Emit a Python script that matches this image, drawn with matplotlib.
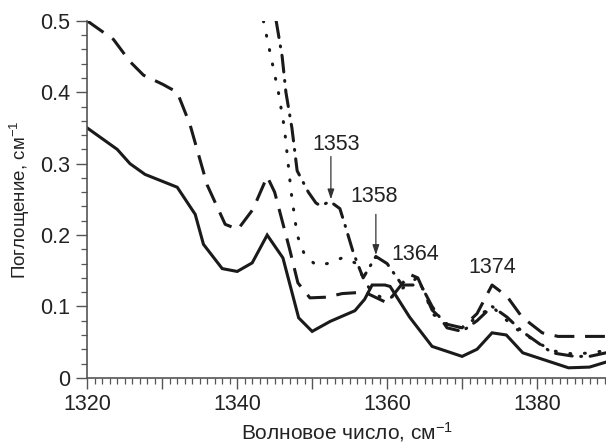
import numpy as np
import matplotlib
matplotlib.use('Agg')
import matplotlib.pyplot as plt
from matplotlib.ticker import MultipleLocator

plt.rcParams['font.family'] = ['Liberation Sans', 'DejaVu Sans']
plt.rcParams['mathtext.fontset'] = 'custom'
plt.rcParams['mathtext.rm'] = 'Liberation Sans'
plt.rcParams['mathtext.it'] = 'Liberation Sans'

# Solid curve
solid_x = [1320, 1324, 1325.7, 1327.7, 1332, 1334.4, 1335.5, 1338, 1340, 1342, 1344, 1346.1,
           1348.2, 1350, 1352.4, 1355.7, 1357, 1358, 1359.7, 1360.4, 1363, 1366, 1370,
           1372, 1374, 1375.9, 1378.1, 1384.2, 1387, 1389.2]
solid_y = [0.35, 0.32, 0.30, 0.285, 0.267, 0.229, 0.187, 0.153, 0.149, 0.161, 0.20, 0.168,
           0.084, 0.065, 0.079, 0.094, 0.11, 0.13, 0.13, 0.128, 0.085, 0.044, 0.03,
           0.04, 0.063, 0.06, 0.035, 0.014, 0.015, 0.022]

# Long dashed curve
dash_x = [1320, 1323.5, 1325.7, 1327.5, 1330.1, 1332, 1333.7, 1336, 1338.4, 1340.1, 1342.1,
          1344, 1345, 1347, 1348.1, 1349.7, 1352, 1354, 1357, 1360, 1363, 1364.1, 1366,
          1368, 1370, 1372, 1374, 1376, 1378, 1380.7, 1382.8, 1389.2]
dash_y = [0.50, 0.474, 0.443, 0.424, 0.411, 0.40, 0.355, 0.27, 0.215, 0.208, 0.236,
          0.282, 0.26, 0.18, 0.133, 0.112, 0.113, 0.118, 0.12, 0.105, 0.145, 0.14, 0.095,
          0.075, 0.07, 0.09, 0.13, 0.114, 0.085, 0.063, 0.058, 0.058]

# Dotted curve
dot_x = [1343.5, 1344.5, 1345.5, 1346.3, 1346.8, 1347.2, 1348, 1349, 1350.5, 1352, 1354,
         1356, 1357, 1358, 1360, 1362, 1364, 1365, 1366, 1368, 1370, 1372, 1374, 1375,
         1377, 1380, 1382, 1385, 1387, 1389.2]
dot_y = [0.50, 0.45, 0.40, 0.35, 0.30, 0.26, 0.20, 0.172, 0.158, 0.16, 0.168,
         0.16, 0.135, 0.12, 0.108, 0.125, 0.14, 0.12, 0.09, 0.075, 0.07, 0.085, 0.10, 0.09,
         0.07, 0.05, 0.038, 0.033, 0.035, 0.038]

# Dash-dot curve
dd_x = [1345.2, 1346, 1346.5, 1347.3, 1348, 1349.5, 1350.5, 1351.1, 1352.4, 1353.7, 1354.5,
        1355.5, 1356.8, 1358.5, 1360, 1361, 1362, 1364.5, 1366, 1368, 1370, 1372, 1374,
        1376, 1378, 1380, 1382, 1385, 1387, 1389.2]
dd_y = [0.50, 0.45, 0.40, 0.35, 0.29, 0.26, 0.245, 0.241, 0.247, 0.237, 0.21,
        0.175, 0.14, 0.17, 0.16, 0.145, 0.13, 0.13, 0.10, 0.07, 0.065, 0.08, 0.10,
        0.085, 0.065, 0.05, 0.035, 0.03, 0.03, 0.035]

peak_labels = ['1353', '1358', '1364', '1374']
label_pos = [(1353.2, 0.327), (1358.3, 0.254), (1363.7, 0.173), (1374.0, 0.154)]
arrow_tips = [(1352.5, 0.25), (1358.5, 0.172)]
arrow_tails = [(1352.5, 0.31), (1358.5, 0.229)]

fig = plt.figure(figsize=(6.06, 4.45), dpi=100)
ax = fig.add_axes([0.144, 0.151, 0.856, 0.802])

col = '#1a1a1a'
lw = 2.2
ax.plot(solid_x, solid_y, color=col, lw=lw, solid_joinstyle='miter')
ax.plot(dash_x, dash_y, color=col, lw=lw, dashes=(6.5, 3.5))
ax.plot(dot_x, dot_y, color=col, lw=lw, dashes=(0.3, 4.5), dash_capstyle='round')
ax.plot(dd_x, dd_y, color=col, lw=lw, dashes=(5.5, 2.8, 0.3, 2.8), dash_capstyle='round')

for lab, (tx, ty) in zip(peak_labels, label_pos):
    ax.text(tx, ty, lab, fontsize=15.5, ha='center', va='center', color='#222222')
for tip, tail in zip(arrow_tips, arrow_tails):
    ax.annotate('', xy=tip, xytext=tail,
                arrowprops=dict(arrowstyle='-|>,head_length=0.6,head_width=0.2',
                                color='#333333', lw=0.9,
                                mutation_scale=10, shrinkA=0, shrinkB=0))

ax.set_xlim(1320, 1389.2)
ax.set_ylim(0, 0.5)
ax.spines['top'].set_visible(False)
ax.spines['right'].set_visible(False)
for s in ['left', 'bottom']:
    ax.spines[s].set_color('#555555')
    ax.spines[s].set_linewidth(1.2)

ax.set_xticks([1320, 1330, 1340, 1350, 1360, 1370, 1380])
ax.set_xticklabels(['1320', '', '1340', '', '1360', '', '1380'])
ax.xaxis.set_minor_locator(MultipleLocator(1))
ax.set_yticks([0, 0.1, 0.2, 0.3, 0.4, 0.5])
ax.set_yticklabels(['0', '0.1', '0.2', '0.3', '0.4', '0.5'])
ax.yaxis.set_minor_locator(MultipleLocator(0.02))
ax.tick_params(which='major', length=8, width=1.0, color='#555555', labelsize=15.5,
               labelcolor='#222222', pad=4)
ax.tick_params(which='minor', length=4.5, width=0.9, color='#555555')

ax.set_xlabel('Волновое число, см$^{-1}$', fontsize=15, color='#222222', labelpad=3)
ax.set_ylabel('Поглощение, см$^{-1}$', fontsize=13.5, color='#222222', labelpad=6)

fig.savefig('out.png', dpi=100)
